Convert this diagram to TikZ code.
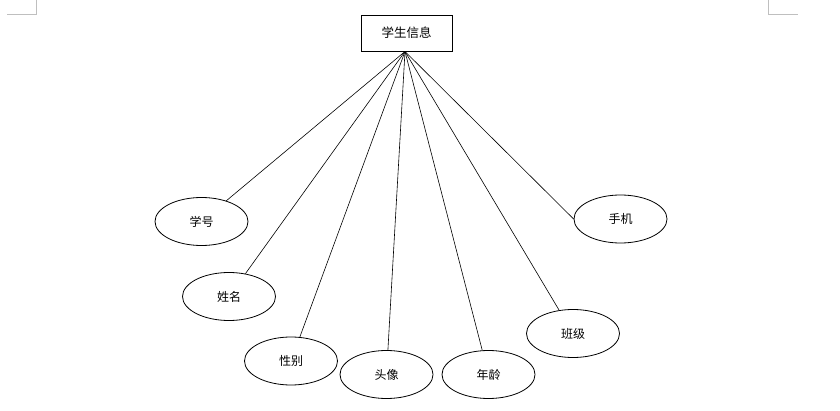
\documentclass[tikz,border=0pt]{standalone}
\usepackage{fontspec}
\newfontfamily\cjk{Noto Sans CJK SC}
\usetikzlibrary{shapes.geometric}
\begin{document}
\begin{tikzpicture}[x=1pt,y=-1pt,
  attr/.style={ellipse,draw,line width=0.8pt,minimum width=93pt,minimum height=48pt,inner sep=0pt,font=\cjk\fontsize{12}{14}\selectfont},
  ent/.style={rectangle,draw,line width=0.8pt,minimum width=91pt,minimum height=36pt,inner sep=0pt,font=\cjk\fontsize{12.5}{14}\selectfont},
  link/.style={line width=0.6pt},
  crop/.style={draw=black!25,line width=0.8pt}]
\useasboundingbox (0,0) rectangle (840,411);
\draw[crop] (7,14) -- (36,14) -- (36,0);
\draw[crop] (768,0) -- (768,14) -- (798,14);
\node[ent] (stu) at (406.5,33) {学生信息};
\coordinate (apex) at (405,51.5);
\node[attr] (xh) at (201.5,221.5) {学号};
\node[attr] (xm) at (229,296.5) {姓名};
\node[attr] (xb) at (291,361) {性别};
\node[attr] (tx) at (386.5,374.5) {头像};
\node[attr] (nl) at (488.5,374.5) {年龄};
\node[attr] (bj) at (573,333.5) {班级};
\node[attr] (sj) at (620.5,219) {手机};
\foreach \n in {xh,xm,xb,tx,nl,bj} \draw[link] (apex) -- (\n);
\draw[link] (apex) -- (sj.west);
\end{tikzpicture}
\end{document}
